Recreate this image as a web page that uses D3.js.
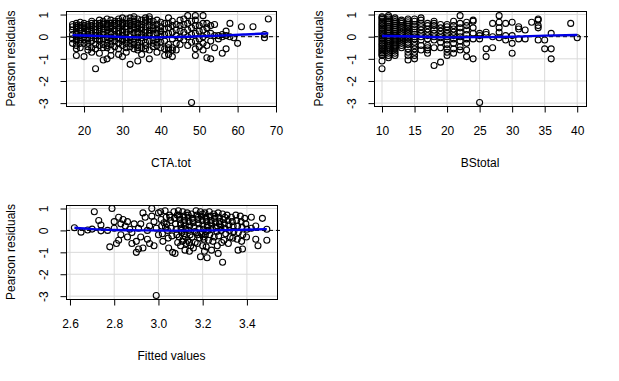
<!DOCTYPE html>
<html>
<head>
<meta charset="utf-8">
<script src="https://cdn.jsdelivr.net/npm/d3@7"></script>
<style>
  body { margin: 0; background: #fff; }
  svg text { font-family: "Liberation Sans", Arial, sans-serif; font-size: 12px; fill: #000; }
</style>
</head>
<body>
<svg id="chart" width="619" height="381"></svg>
<script>
// residual axis (shared by all panels)
const resTicks = [-3, -2, -1, 0, 1];
const resDomain = [-3.13, 1.16];

// CTA.tot panel: [CTA.tot, residuals at that value]
const ctaGroups = [
  [17, [0.55, 0.45, 0.3, 0.1, -0.1, -0.3]],
  [18, [0.6, 0.5, 0.42, 0.35, 0.2, 0.1, 0.0, -0.1, -0.2, -0.4, -0.55, -0.85]],
  [19, [0.65, 0.5, 0.4, 0.3, 0.05, -0.15, -0.3, -0.5]],
  [20, [0.6, 0.5, 0.4, 0.2, 0.1, 0.0, -0.15, -0.3, -0.9]],
  [21, [0.55, 0.45, 0.35, 0.25, 0.1, -0.1, -0.3, -0.45, -0.6]],
  [22, [0.7, 0.6, 0.5, 0.3, 0.15, -0.05, -0.2, -0.5, -0.7]],
  [23, [0.6, 0.45, 0.3, 0.2, 0.05, -0.1, -0.35, -0.55, -1.45]],
  [24, [0.75, 0.6, 0.5, 0.4, 0.25, 0.05, -0.1, -0.2, -0.4, -0.75]],
  [25, [0.7, 0.62, 0.55, 0.35, 0.2, 0.1, -0.1, -0.35, -0.5, -1.05]],
  [26, [0.8, 0.6, 0.52, 0.45, 0.3, 0.15, 0.0, -0.15, -0.3, -0.4, -0.5, -1.0]],
  [27, [0.75, 0.6, 0.5, 0.4, 0.2, 0.1, -0.05, -0.2, -0.35, -0.6, -0.85]],
  [28, [0.7, 0.6, 0.5, 0.3, 0.1, 0.0, -0.2, -0.45]],
  [29, [0.8, 0.7, 0.6, 0.4, 0.25, 0.15, -0.1, -0.3, -0.55, -0.8]],
  [30, [0.85, 0.65, 0.58, 0.5, 0.3, 0.2, 0.05, -0.1, -0.2, -0.4, -0.9]],
  [31, [0.8, 0.6, 0.45, 0.35, 0.2, -0.05, -0.15, -0.3, -0.5, -0.7]],
  [32, [0.85, 0.7, 0.6, 0.5, 0.3, 0.1, 0.0, -0.15, -0.3, -0.45, -1.25]],
  [33, [0.9, 0.8, 0.7, 0.55, 0.45, 0.35, 0.15, -0.1, -0.25, -0.35, -0.55]],
  [34, [0.8, 0.6, 0.5, 0.4, 0.2, 0.1, -0.05, -0.25, -0.4, -0.5, -0.6, -1.1]],
  [35, [0.75, 0.55, 0.42, 0.3, 0.1, -0.05, -0.2, -0.5, -0.8]],
  [36, [0.85, 0.75, 0.65, 0.45, 0.3, 0.2, 0.0, -0.25, -0.4, -0.55]],
  [37, [0.9, 0.8, 0.7, 0.5, 0.3, 0.15, 0.05, -0.2, -0.6, -1.0]],
  [38, [0.7, 0.5, 0.4, 0.3, 0.1, -0.15, -0.3, -0.45]],
  [39, [0.75, 0.55, 0.35, 0.15, -0.1, -0.25, -0.4, -0.7]],
  [40, [0.65, 0.45, 0.25, 0.1, 0.0, -0.25, -0.5]],
  [41, [0.6, 0.35, 0.1, -0.2, -0.55, -0.85]],
  [42, [0.85, 0.6, 0.4, 0.15, -0.35, -0.5, -0.6, -0.8]],
  [43, [0.7, 0.5, 0.2, -0.1, -0.5, -0.6, -0.9]],
  [44, [0.55, 0.3, 0.05, -0.3, -0.6]],
  [45, [0.75, 0.5, 0.25, -0.05, -0.35]],
  [46, [0.8, 0.55, 0.2, -0.15]],
  [47, [0.95, 0.6, 0.3, 0.0, -0.4]],
  [48, [0.7, 0.4, 0.1, -0.25, -2.97]],
  [49, [0.95, 0.75, 0.5, 0.15, -0.2, -0.55, -0.85]],
  [50, [0.5, 0.25, -0.1, -0.45]],
  [51, [0.95, 0.6, 0.3, 0.0, -0.3, -0.6]],
  [52, [0.6, 0.4, 0.1, -0.4, -0.95]],
  [53, [0.5, 0.15, -0.2, -1.0]],
  [54, [0.55, 0.05, -0.5]],
  [55, [0.05, -0.1]],
  [56, [0.1, 0.0, -0.75]],
  [57, [0.25, 0.05, -0.55]],
  [58, [0.6, 0.0]],
  [59, [-0.05]],
  [60, [-0.3]],
  [61, [0.45]],
  [64, [0.45]],
  [67, [0.1, -0.05]],
  [68, [0.8]]
];
const ctaTicks = [20, 30, 40, 50, 60, 70];
const ctaSmooth = [[17, 0.07], [22, 0.04], [27, 0.01], [32, -0.02], [37, -0.03], [42, -0.02], [47, 0.0], [52, 0.03], [57, 0.06], [62, 0.1], [68, 0.15]];

// BStotal panel
const bsGroups = [
  [10, [0.9, 0.85, 0.78, 0.7, 0.62, 0.55, 0.48, 0.4, 0.33, 0.25, 0.18, 0.1, 0.03, -0.05, -0.12, -0.2, -0.28, -0.35, -0.42, -0.5, -0.58, -0.65, -0.72, -0.8, -0.85, -1.1, -1.45]],
  [11, [0.95, 0.88, 0.8, 0.72, 0.64, 0.56, 0.47, 0.4, 0.3, 0.22, 0.14, 0.05, -0.03, -0.12, -0.2, -0.3, -0.38, -0.47, -0.55, -0.65, -0.75, -0.85, -0.95]],
  [12, [0.85, 0.77, 0.68, 0.6, 0.5, 0.42, 0.33, 0.25, 0.15, 0.07, -0.02, -0.1, -0.2, -0.28, -0.38, -0.46, -0.55, -0.65, -0.75, -0.85]],
  [13, [0.75, 0.68, 0.6, 0.5, 0.4, 0.3, 0.2, 0.1, 0.0, -0.1, -0.2, -0.3, -0.4, -0.5]],
  [14, [0.8, 0.72, 0.63, 0.55, 0.45, 0.35, 0.25, 0.15, 0.05, -0.05, -0.15, -0.25, -0.35, -0.55, -0.7, -0.85, -1.05]],
  [15, [0.8, 0.7, 0.55, 0.45, 0.35, 0.2, 0.1, 0.0, -0.1, -0.25, -0.4, -0.55, -0.7, -0.85, -1.0]],
  [16, [0.85, 0.75, 0.6, 0.45, 0.3, 0.15, 0.0, -0.15, -0.4, -0.6]],
  [17, [0.6, 0.5, 0.35, 0.2, 0.05, -0.1, -0.4, -0.5, -0.6, -0.75]],
  [18, [0.7, 0.6, 0.5, 0.3, 0.15, 0.0, -0.15, -0.5, -1.3]],
  [19, [0.55, 0.4, 0.25, 0.1, -0.05, -0.25, -0.5, -1.15]],
  [20, [0.55, 0.45, 0.3, 0.15, 0.0, -0.15, -0.35, -0.55, -0.7, -0.85]],
  [21, [0.7, 0.5, 0.35, 0.2, 0.05, -0.1, -0.3, -0.55, -0.75]],
  [22, [0.95, 0.6, 0.4, 0.2, 0.0, -0.2, -0.45, -0.6]],
  [23, [0.65, 0.5, 0.3, 0.1, -0.1, -0.3, -0.6, -0.9]],
  [24, [0.75, 0.7, 0.4, 0.15, -0.1, -1.0]],
  [25, [0.15, 0.05, -0.1, -2.97]],
  [26, [0.2, 0.1, -0.55, -0.9]],
  [27, [0.6, 0.0, -0.5]],
  [28, [0.95, 0.65, 0.4, 0.2, -0.05]],
  [29, [0.6, 0.05, -0.15]],
  [30, [0.65, 0.05, -0.3, -0.75]],
  [31, [0.45, 0.35, -0.1]],
  [32, [0.3, -0.1]],
  [33, [0.65]],
  [34, [0.8, 0.75, 0.5, 0.4, -0.15]],
  [35, [-0.15, -0.55]],
  [36, [0.15, -0.55, -1.0]],
  [39, [0.6]],
  [40, [-0.05]]
];
const bsTicks = [10, 15, 20, 25, 30, 35, 40];
const bsSmooth = [[10, 0.03], [13, 0.02], [16, 0.0], [20, -0.03], [25, -0.02], [30, 0.0], [35, 0.05], [40, 0.08]];

// Fitted values panel: [fitted, residual]
const fitPoints = [
  [2.62, 0.12], [2.65, -0.08], [2.68, 0.02], [2.70, 0.06], [2.71, 0.85], [2.73, 0.45], [2.74, 0.25], [2.74, -0.02],
  [2.77, 0.0], [2.78, -0.75], [2.79, 1.0], [2.80, 0.4], [2.80, 0.1], [2.81, -0.6], [2.82, 0.6], [2.82, -0.45],
  [2.83, 0.3], [2.83, -0.2], [2.84, 0.5], [2.85, 0.2], [2.86, 0.4], [2.86, -0.3], [2.87, 0.05], [2.88, -0.1],
  [2.88, -0.6], [2.89, 0.3], [2.90, -1.0], [2.90, -0.5], [2.91, -0.85], [2.91, 0.1], [2.92, 0.3], [2.92, -0.3],
  [2.93, -0.8], [2.93, 0.8], [2.94, 0.6], [2.95, 0.0], [2.95, -0.4], [2.96, 0.2], [2.96, -0.6], [2.97, 1.0],
  [2.97, 0.65], [2.98, -0.7], [2.98, 0.4], [2.99, -2.97], [2.99, 0.1], [3.00, 0.8], [3.00, -0.2],
  [3.01, 0.85], [3.012, 0.5], [3.015, 0.2], [3.018, -0.15], [3.02, -0.5], [3.025, 0.35],
  [3.03, 0.9], [3.035, 0.6], [3.038, 0.3], [3.041, 0.0], [3.044, -0.35], [3.046, -0.8], [3.032, 0.15],
  [3.05, 0.7], [3.055, 0.45], [3.058, 0.1], [3.061, -0.25], [3.064, -1.0], [3.052, 0.6],
  [3.07, 0.85], [3.073, 0.55], [3.077, 0.3], [3.08, 0.05], [3.083, -0.2], [3.087, -0.55], [3.075, -1.05], [3.085, 0.7],
  [3.09, 0.9], [3.093, 0.7], [3.097, 0.5], [3.1, 0.3], [3.102, 0.1], [3.105, -0.1], [3.094, -0.3], [3.108, -0.5], [3.1, -0.7], [3.096, 0.6], [3.104, 0.0],
  [3.11, 0.85], [3.114, 0.65], [3.118, 0.45], [3.121, 0.25], [3.124, 0.05], [3.117, -0.15], [3.112, -0.4], [3.126, -0.6], [3.12, -0.9], [3.115, 0.35], [3.122, -0.3],
  [3.13, 0.8], [3.134, 0.6], [3.138, 0.4], [3.141, 0.2], [3.136, 0.0], [3.143, -0.2], [3.132, -0.45], [3.146, -0.7], [3.14, -0.95], [3.135, 0.7], [3.139, -0.55],
  [3.15, 0.75], [3.154, 0.55], [3.157, 0.35], [3.161, 0.15], [3.164, -0.05], [3.152, -0.3], [3.166, -0.55], [3.158, -0.8], [3.156, 0.45],
  [3.17, 0.9], [3.174, 0.7], [3.178, 0.5], [3.181, 0.3], [3.184, 0.1], [3.172, -0.1], [3.186, -0.35], [3.176, -0.6], [3.19, -1.2], [3.18, 0.6], [3.177, -0.2],
  [3.19, 0.85], [3.194, 0.65], [3.198, 0.45], [3.201, 0.25], [3.204, 0.05], [3.196, -0.15], [3.206, -0.4], [3.2, -0.7], [3.208, -0.95], [3.199, 0.75], [3.203, -0.3],
  [3.21, 0.8], [3.214, 0.6], [3.218, 0.4], [3.221, 0.2], [3.224, 0.0], [3.212, -0.2], [3.226, -0.45], [3.216, -0.75], [3.22, -1.25], [3.219, 0.5], [3.215, -0.05],
  [3.23, 0.85], [3.234, 0.65], [3.238, 0.45], [3.241, 0.25], [3.244, 0.05], [3.232, -0.2], [3.246, -0.5], [3.24, -0.9], [3.236, 0.35],
  [3.25, 0.75], [3.254, 0.55], [3.258, 0.35], [3.261, 0.15], [3.264, -0.05], [3.252, -0.3], [3.266, -0.7], [3.27, -1.05], [3.256, 0.65],
  [3.27, 0.8], [3.274, 0.6], [3.278, 0.4], [3.281, 0.2], [3.284, 0.0], [3.272, -0.25], [3.286, -0.55], [3.29, -1.45], [3.276, 0.3],
  [3.29, 0.75], [3.294, 0.5], [3.298, 0.3], [3.301, 0.1], [3.304, -0.15], [3.296, -0.45], [3.3, 0.6],
  [3.31, 0.7], [3.314, 0.45], [3.318, 0.25], [3.321, 0.0], [3.324, -0.3], [3.316, -0.6],
  [3.33, 0.6], [3.334, 0.4], [3.338, 0.2], [3.341, -0.05], [3.336, -0.35],
  [3.35, 0.7], [3.354, 0.45], [3.358, 0.2], [3.361, -0.1], [3.356, -0.4], [3.36, -0.9],
  [3.37, 0.65], [3.374, 0.4], [3.378, 0.15], [3.381, -0.2], [3.376, -0.5], [3.38, -0.85],
  [3.39, 0.55], [3.395, 0.3], [3.40, 0.05], [3.398, -0.3],
  [3.42, 0.6], [3.42, 0.1], [3.44, 0.2], [3.44, -0.4], [3.45, -0.7], [3.47, 0.55], [3.49, 0.05], [3.49, -0.45]
];
const fitTicks = [2.6, 2.8, 3.0, 3.2, 3.4];
const fitSmooth = [[2.62, 0.12], [2.7, 0.06], [2.8, 0.02], [2.95, 0.0], [3.1, -0.01], [3.25, 0.0], [3.4, 0.03], [3.49, 0.06]];

const flatten = groups => groups.flatMap(([x, rs]) => rs.map(r => [x, r]));

const panels = [
  { points: flatten(ctaGroups), smooth: ctaSmooth, xTicks: ctaTicks, xDomain: [15.3, 70.0], fmt: d => String(d),
    left: 66, right: 276, top: 11, bottom: 106, xLabel: "CTA.tot" },
  { points: flatten(bsGroups), smooth: bsSmooth, xTicks: bsTicks, xDomain: [8.77, 41.35], fmt: d => String(d),
    left: 374, right: 586, top: 11, bottom: 106, xLabel: "BStotal" },
  { points: fitPoints, smooth: fitSmooth, xTicks: fitTicks, xDomain: [2.582, 3.536], fmt: d3.format(".1f"),
    left: 66, right: 277, top: 205, bottom: 299, xLabel: "Fitted values" }
];

const svg = d3.select("#chart");

function drawPanel(p) {
  const x = d3.scaleLinear().domain(p.xDomain).range([p.left, p.right]);
  const y = d3.scaleLinear().domain(resDomain).range([p.bottom, p.top]);
  const g = svg.append("g");

  // grid
  g.selectAll(".gx").data(p.xTicks).join("line")
    .attr("x1", d => x(d)).attr("x2", d => x(d))
    .attr("y1", p.top).attr("y2", p.bottom)
    .attr("stroke", "#d9d9d9");
  g.selectAll(".gy").data(resTicks).join("line")
    .attr("x1", p.left).attr("x2", p.right)
    .attr("y1", d => y(d)).attr("y2", d => y(d))
    .attr("stroke", "#d9d9d9");

  // points
  g.append("g").selectAll("circle").data(p.points).join("circle")
    .attr("cx", d => x(d[0])).attr("cy", d => y(d[1]))
    .attr("r", 3).attr("fill", "none")
    .attr("stroke", "#000").attr("stroke-width", 1.1);

  // h = 0 reference
  g.append("line")
    .attr("x1", p.left).attr("x2", p.right + 3)
    .attr("y1", y(0)).attr("y2", y(0))
    .attr("stroke", "#000").attr("stroke-dasharray", "4,3");

  // smoother
  g.append("path").datum(p.smooth)
    .attr("fill", "none").attr("stroke", "#0000e6").attr("stroke-width", 2.4)
    .attr("d", d3.line().x(d => x(d[0])).y(d => y(d[1])).curve(d3.curveMonotoneX));

  // box
  g.append("rect")
    .attr("x", p.left + 0.5).attr("y", p.top + 0.5)
    .attr("width", p.right - p.left).attr("height", p.bottom - p.top)
    .attr("fill", "none").attr("stroke", "#000");

  // axes
  const xAxis = g.append("g").attr("transform", `translate(0,${p.bottom + 0.5})`)
    .call(d3.axisBottom(x).tickValues(p.xTicks).tickFormat(p.fmt).tickSize(6).tickPadding(14));
  xAxis.select(".domain").remove();
  xAxis.selectAll("text").attr("font-size", null).attr("font-family", null);

  const yAxis = g.append("g").attr("transform", `translate(${p.left + 0.5},0)`)
    .call(d3.axisLeft(y).tickValues(resTicks).tickFormat(d => String(d)).tickSize(6));
  yAxis.select(".domain").remove();
  yAxis.selectAll("text")
    .attr("x", null).attr("dy", null)
    .attr("text-anchor", "middle")
    .attr("transform", "translate(-19,0) rotate(-90)")
    .attr("font-size", null).attr("font-family", null);
  g.selectAll(".tick line").attr("stroke", "#000");

  // titles
  g.append("text")
    .attr("x", (p.left + p.right) / 2).attr("y", p.bottom + 61)
    .attr("text-anchor", "middle").text(p.xLabel);
  g.append("text")
    .attr("transform", `translate(${p.left - 51},${(p.top + p.bottom) / 2}) rotate(-90)`)
    .attr("text-anchor", "middle").text("Pearson residuals");
}

panels.forEach(drawPanel);
</script>
</body>
</html>
